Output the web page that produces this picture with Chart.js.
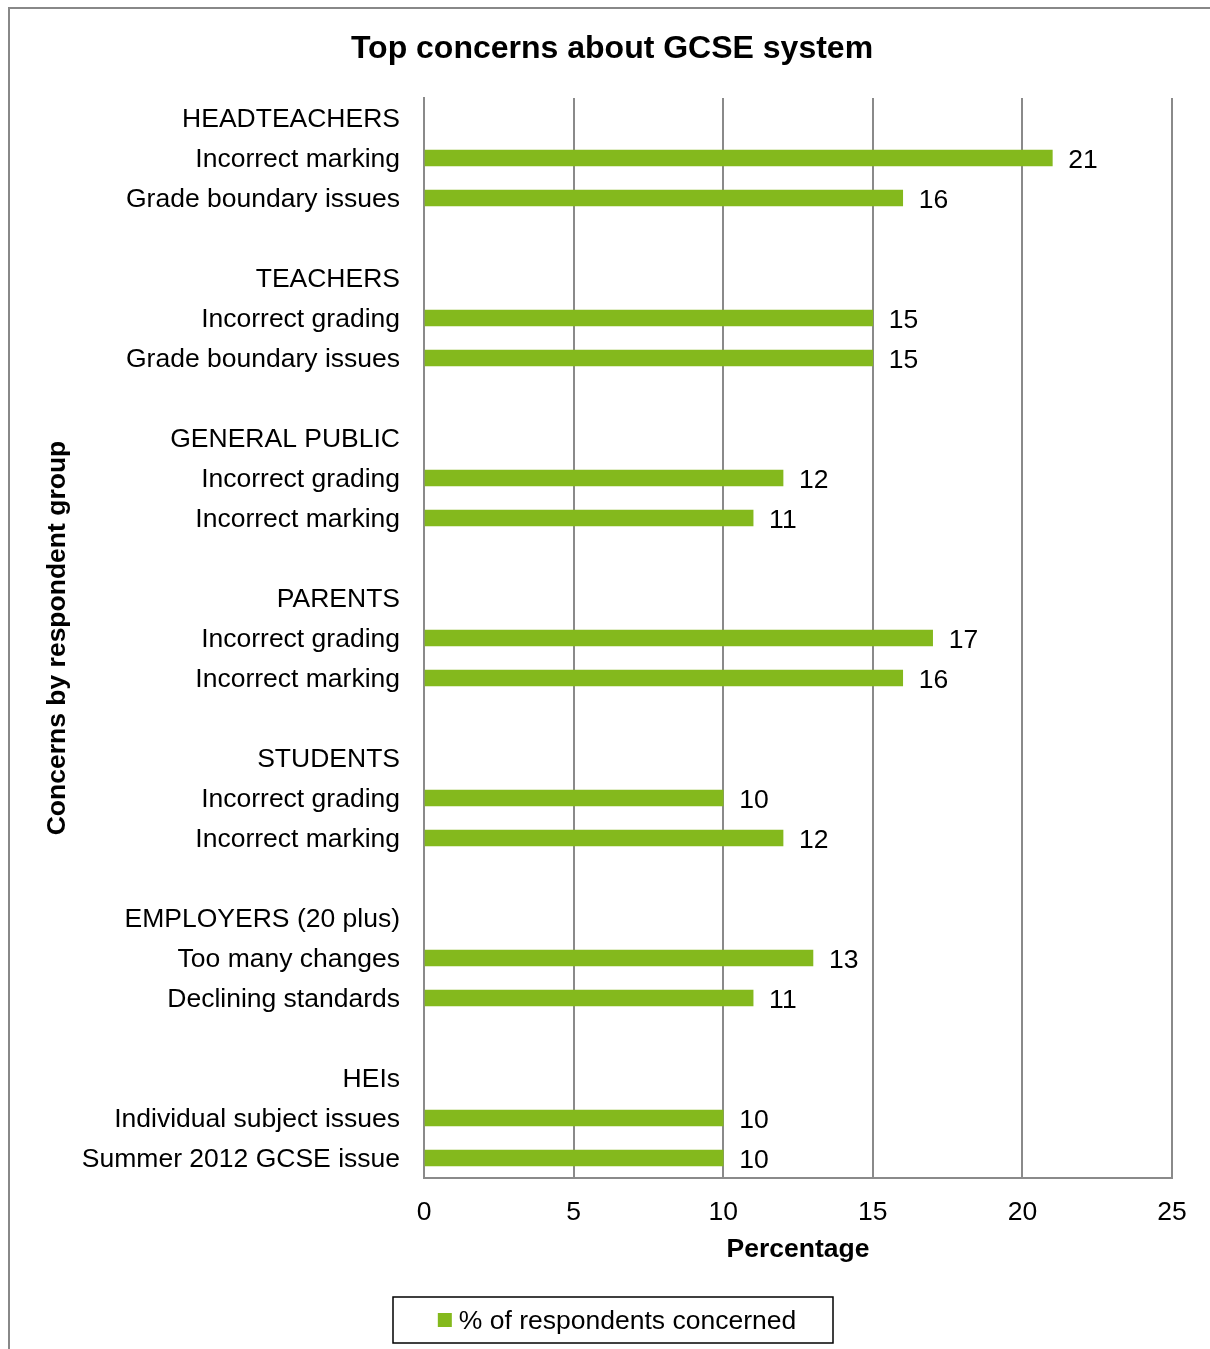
<!DOCTYPE html>
<html>
<head>
<meta charset="utf-8">
<script src="https://cdn.jsdelivr.net/npm/chart.js@4/dist/chart.umd.min.js"></script>
<style>
html, body { margin: 0; padding: 0; background: #fff; }
#myChart { display: block; }
</style>
</head>
<body>
<canvas id="myChart" width="1210" height="1349"></canvas>
<script>
// respondent groups and their two top concerns
const groups = ['HEADTEACHERS', 'TEACHERS', 'GENERAL PUBLIC', 'PARENTS', 'STUDENTS', 'EMPLOYERS (20 plus)', 'HEIs'];
const concerns = [
  ['Incorrect marking', 'Grade boundary issues'],
  ['Incorrect grading', 'Grade boundary issues'],
  ['Incorrect grading', 'Incorrect marking'],
  ['Incorrect grading', 'Incorrect marking'],
  ['Incorrect grading', 'Incorrect marking'],
  ['Too many changes', 'Declining standards'],
  ['Individual subject issues', 'Summer 2012 GCSE issue']
];
const percentages = [
  [21, 16],
  [15, 15],
  [12, 11],
  [17, 16],
  [10, 12],
  [13, 11],
  [10, 10]
];
const seriesName = '% of respondents concerned';
const xTicks = [0, 5, 10, 15, 20, 25];

// flatten: group header row, two concern rows, blank spacer row
var labels = [];
var values = [];
groups.forEach(function (g, i) {
  labels.push(g); values.push(null);
  concerns[i].forEach(function (c, j) {
    labels.push(c); values.push(percentages[i][j]);
  });
  if (i < groups.length - 1) { labels.push(''); values.push(null); }
});

const FONT = "'Liberation Sans', Arial, sans-serif";
const FS = 26.5;
const GREEN = '#84B91D';
const GRID = '#8a8a8a';

const extras = {
  id: 'extras',
  afterLayout(chart) {
    // nudge title to match original centring
    chart.titleBlock.left += 16;
    chart.titleBlock.right += 16;
  },
  afterDatasetsDraw(chart) {
    const ctx = chart.ctx;
    const meta = chart.getDatasetMeta(0);
    const data = chart.data.datasets[0].data;
    ctx.save();
    ctx.font = FS + 'px ' + FONT;
    ctx.fillStyle = '#000';
    ctx.textAlign = 'left';
    ctx.textBaseline = 'middle';
    meta.data.forEach(function (bar, i) {
      if (data[i] == null) return;
      ctx.fillText(String(data[i]), bar.x + 16, bar.y + 3);
    });
    ctx.restore();
  },
  afterDraw(chart) {
    const ctx = chart.ctx;
    ctx.save();
    // outer frame (top and left edges visible)
    ctx.strokeStyle = '#888';
    ctx.lineWidth = 2;
    ctx.beginPath();
    ctx.moveTo(9, chart.height);
    ctx.lineTo(9, 8);
    ctx.lineTo(chart.width, 8);
    ctx.stroke();

    // boxed legend
    const cx = 613, top = 1297, w = 440, h = 46;
    ctx.strokeStyle = '#000';
    ctx.lineWidth = 1.5;
    ctx.strokeRect(cx - w / 2, top, w, h);
    ctx.font = FS + 'px ' + FONT;
    const tw = ctx.measureText(seriesName).width;
    const start = cx - (14 + 7 + tw) / 2 + 4;
    ctx.fillStyle = chart.data.datasets[0].backgroundColor;
    ctx.fillRect(start, top + h / 2 - 7, 14, 14);
    ctx.fillStyle = '#000';
    ctx.textAlign = 'left';
    ctx.textBaseline = 'middle';
    ctx.fillText(seriesName, start + 21, top + h / 2 + 2);
    ctx.restore();
  }
};

new Chart('myChart', {
  type: 'bar',
  data: {
    labels: labels,
    datasets: [{
      label: seriesName,
      data: values,
      backgroundColor: GREEN,
      barThickness: 16
    }]
  },
  options: {
    indexAxis: 'y',
    responsive: false,
    animation: false,
    layout: { padding: { left: 20, right: 38, top: 0, bottom: 83 } },
    plugins: {
      legend: { display: false },
      tooltip: { enabled: false },
      title: {
        display: true,
        text: 'Top concerns about GCSE system',
        color: '#000',
        font: { family: FONT, size: 32, weight: 'bold' },
        padding: { top: 30, bottom: 29.6 }
      }
    },
    scales: {
      x: {
        min: 0,
        max: 25,
        afterBuildTicks(scale) { scale.ticks = xTicks.map(function (v) { return { value: v }; }); },
        afterFit(scale) { scale.height = 88; },
        grid: { color: GRID, lineWidth: 2, drawTicks: false },
        border: { color: GRID, width: 2 },
        ticks: { color: '#000', padding: 19, font: { family: FONT, size: FS } },
        title: {
          display: true,
          text: 'Percentage',
          color: '#000',
          font: { family: FONT, size: FS, weight: 'bold' },
          padding: { top: 0, bottom: 0 }
        }
      },
      y: {
        afterFit(scale) { scale.width = 404; },
        grid: { display: false, drawTicks: false },
        border: { color: GRID, width: 2 },
        ticks: { color: '#000', padding: 24, labelOffset: 2, autoSkip: false, font: { family: FONT, size: FS } },
        title: {
          display: true,
          text: 'Concerns by respondent group',
          color: '#000',
          font: { family: FONT, size: FS, weight: 'bold' },
          padding: { top: 22, bottom: 0 }
        }
      }
    }
  },
  plugins: [extras]
});
</script>
</body>
</html>
